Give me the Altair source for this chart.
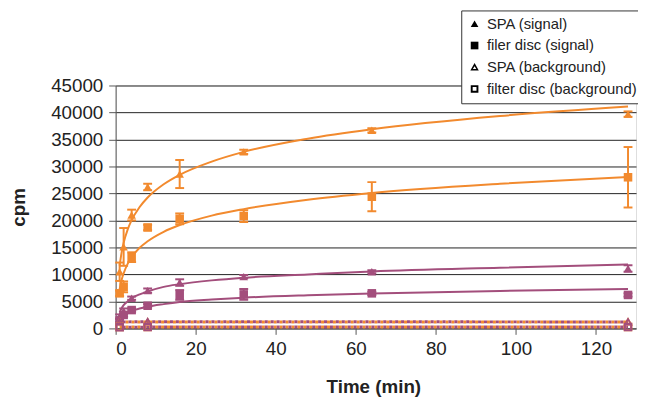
import altair as alt
import pandas as pd

ORANGE = "#F28A2E"
PURPLE = "#A34E7C"
FONT = "Liberation Sans"

# sampling times (min)
times = [1, 2, 4, 8, 16, 32, 64, 128]

# orange set: signal means and error (+/-)
spa_sig_o = [10500, 15100, 21000, 26200, 28600, 32700, 36700, 39700]
spa_sig_o_err = [1700, 3500, 1000, 600, 2600, 400, 400, 500]
fd_sig_o = [6500, 7700, 13200, 18700, 20300, 20800, 24400, 28000]
fd_sig_o_err = [500, 1000, 900, 500, 1000, 1100, 2700, 5600]

# purple set: signal means and error (+/-)
spa_sig_p = [2200, 3200, 5600, 7000, 8500, 9600, 10500, 11100]
spa_sig_p_err = [400, 500, 300, 400, 600, 300, 300, 600]
fd_sig_p = [1500, 2500, 3400, 4200, 6200, 6300, 6500, 6200]
fd_sig_p_err = [300, 300, 300, 300, 900, 1000, 300, 300]

# backgrounds
bg_times = [1, 8, 128]
spa_bg_o = [1200, 1200, 1200]
spa_bg_p = [1200, 1250, 1200]
fd_bg_o = [250, 250, 250]
fd_bg_p = [200, 250, 250]

# trend curves
fit_t = [1, 1.5, 2, 3, 4, 6, 8, 12, 16, 24, 32, 48, 64, 96, 128]
fit_spa_o = [11650, 14100, 15850, 18300, 20050, 22500, 24250, 26700, 28450, 30900, 32700, 35150, 36900, 39350, 41100]
fit_fd_o = [7250, 9000, 10200, 11950, 13200, 14950, 16150, 17900, 19150, 20900, 22100, 23850, 25100, 26800, 28050]
fit_spa_p = [3000, 3750, 4300, 5000, 5600, 6300, 6850, 7700, 8200, 8900, 9400, 10000, 10550, 11250, 11850]
fit_fd_p = [1560, 2040, 2380, 2860, 3200, 3680, 4020, 4500, 4900, 5350, 5700, 6150, 6480, 6950, 7290]

legend_labels = ["SPA (signal)", "filer disc (signal)", "SPA (background)", "filter disc (background)"]
x_ticks = [0, 20, 40, 60, 80, 100, 120]
y_ticks = [0, 5000, 10000, 15000, 20000, 25000, 30000, 35000, 40000, 45000]

OPEN_TRI = "M0,-1.1L1.1,0.85L-1.1,0.85Z M0,-0.25L-0.45,0.45L0.45,0.45Z"
OPEN_SQ = "M-1,-1L1,-1L1,1L-1,1Z M-0.5,-0.5L-0.5,0.5L0.5,0.5L0.5,-0.5Z"

# ---- tables ----
pts = []
for cond, sets in [("orange", [(spa_sig_o, spa_sig_o_err, legend_labels[0]), (fd_sig_o, fd_sig_o_err, legend_labels[1])]),
                   ("purple", [(spa_sig_p, spa_sig_p_err, legend_labels[0]), (fd_sig_p, fd_sig_p_err, legend_labels[1])])]:
    for vals, errs, lab in sets:
        for t, v, e in zip(times, vals, errs):
            pts.append({"t": t, "v": v, "lo": v - e, "hi": v + e, "cond": cond, "series": lab})
sig = pd.DataFrame(pts)

bg_rows = []
for cond, vals, lab in [("orange", spa_bg_o, legend_labels[2]), ("purple", spa_bg_p, legend_labels[2]),
                        ("orange", fd_bg_o, legend_labels[3]), ("purple", fd_bg_p, legend_labels[3])]:
    for t, v in zip(bg_times, vals):
        bg_rows.append({"t": t, "v": v, "cond": cond, "series": lab})
bg = pd.DataFrame(bg_rows)

fit_rows = []
for cond, vals, lab in [("orange", fit_spa_o, "a"), ("orange", fit_fd_o, "b"),
                        ("purple", fit_spa_p, "c"), ("purple", fit_fd_p, "d")]:
    for t, v in zip(fit_t, vals):
        fit_rows.append({"t": t, "v": v, "cond": cond, "series": lab})
fits = pd.DataFrame(fit_rows)

allpts = pd.concat([sig[["t", "v", "cond", "series"]], bg], ignore_index=True)

# ---- scales/axes ----
xscale = alt.Scale(domain=[0, 130], nice=False, zero=False)
yscale = alt.Scale(domain=[0, 45000], nice=False)
color = alt.Color("cond:N", scale=alt.Scale(domain=["orange", "purple"], range=[ORANGE, PURPLE]), legend=None)

xaxis = alt.Axis(values=x_ticks, grid=False, title="Time (min)", domainColor="#555", tickColor="#555",
                 tickSize=6, labelPadding=5, labelFontSize=19, labelFont=FONT, labelColor="#222",
                 titleFont=FONT, titleFontSize=19, titleFontWeight="bold", titleColor="#222",
                 titleX=261, titleY=65, titleBaseline="alphabetic", titleAnchor="middle")
yaxis = alt.Axis(values=y_ticks, format="d", grid=True, gridColor="#222", gridWidth=1, title="cpm",
                 domainColor="#555", tickColor="#555", tickSize=7, labelPadding=6, labelFontSize=19,
                 labelFont=FONT, labelColor="#222", titleFont=FONT, titleFontSize=19,
                 titleFontWeight="bold", titleColor="#222", titlePadding=22)

X = alt.X("t:Q", scale=xscale, axis=xaxis)
Y = alt.Y("v:Q", scale=yscale, axis=yaxis)

bg_o_line = alt.Chart(bg[bg.cond == "orange"]).mark_line(strokeWidth=3, strokeDash=[3, 3], color=ORANGE).encode(
    x=X, y=Y, detail="series:N")
bg_p_line = alt.Chart(bg[bg.cond == "purple"]).mark_line(strokeWidth=3, strokeDash=[3, 3], strokeDashOffset=3,
                                                          color=PURPLE).encode(x=X, y=Y, detail="series:N")

fit_lines = alt.Chart(fits).mark_line(strokeWidth=2, interpolate="monotone").encode(
    x=X, y=Y, color=color, detail="series:N")

err_rules = alt.Chart(sig).mark_rule(strokeWidth=2).encode(
    x=X, y=alt.Y("lo:Q", scale=yscale, axis=yaxis), y2="hi:Q", color=color)
cap_lo = alt.Chart(sig).mark_tick(orient="horizontal", thickness=2, size=9, opacity=1).encode(
    x=X, y=alt.Y("lo:Q", scale=yscale, axis=yaxis), color=color)
cap_hi = alt.Chart(sig).mark_tick(orient="horizontal", thickness=2, size=9, opacity=1).encode(
    x=X, y=alt.Y("hi:Q", scale=yscale, axis=yaxis), color=color)

points = alt.Chart(allpts).mark_point(filled=True, opacity=1, size=75).encode(
    x=X, y=Y, color=color,
    shape=alt.Shape("series:N",
                    scale=alt.Scale(domain=legend_labels, range=["triangle-up", "square", OPEN_TRI, OPEN_SQ]),
                    legend=alt.Legend(title=None, orient="none", legendX=350, legendY=-76,
                                      labelFont=FONT, labelFontSize=15, labelColor="#222", labelLimit=220,
                                      symbolSize=60, symbolFillColor="black", symbolStrokeColor="black",
                                      symbolStrokeWidth=0, symbolOpacity=1, labelOffset=5,
                                      rowPadding=6, padding=6, strokeColor="#333", fillColor="white",
                                      cornerRadius=0)))

chart = alt.layer(bg_o_line, bg_p_line, fit_lines, err_rules, cap_lo, cap_hi, points).properties(
    width=527, height=246,
    padding={"left": 109, "top": 76, "right": 2, "bottom": 70},
    autosize=alt.AutoSizeParams(type="none"),
).configure_view(stroke=None).configure(background="white")

chart.save("out.html", embed_options={"renderer": "svg", "actions": False})
